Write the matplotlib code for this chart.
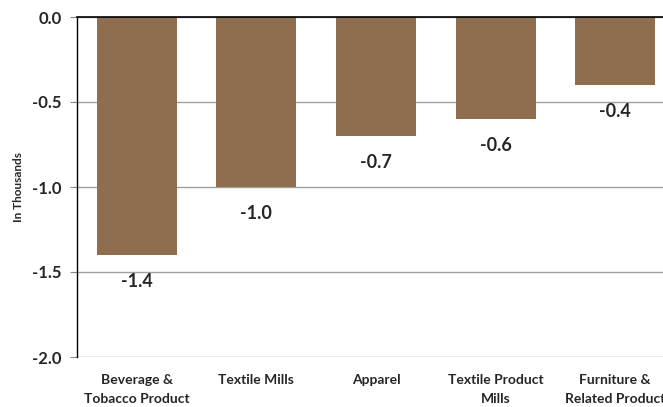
import matplotlib
matplotlib.use("Agg")
import matplotlib.pyplot as plt

categories = ["Beverage &\nTobacco Product", "Textile Mills", "Apparel",
              "Textile Product\nMills", "Furniture &\nRelated Product"]
values = [-1.4, -1.0, -0.7, -0.6, -0.4]
yticks = [0.0, -0.5, -1.0, -1.5, -2.0]

BAR_COLOR = "#8E6E4F"
plt.rcParams["font.family"] = ["Lato", "DejaVu Sans"]

fig = plt.figure(figsize=(6.63, 4.07), dpi=100)
ax = fig.add_axes([77 / 663, 1 - 357 / 407, 598 / 663, 340 / 407])

x = range(len(categories))
ax.bar(x, values, width=0.67, color=BAR_COLOR, zorder=2)
for i, v in zip(x, values):
    ax.annotate(f"{v:.1f}", (i, v), xytext=(0, -13), textcoords="offset points",
                ha="center", va="top", fontsize=13, fontweight="bold", color="#262626")

ax.set_xlim(-0.5, len(categories) - 0.5)
ax.set_ylim(-2.0, 0.0)
ax.set_yticks(yticks)
ax.set_yticklabels([f"{t:.1f}" for t in yticks], fontsize=12, fontweight="bold", color="#262626")
ax.set_xticks(list(x))
ax.set_xticklabels(categories, fontsize=10, fontweight="bold", color="#262626",
                   linespacing=1.7)
ax.tick_params(axis="x", length=0, pad=12)
ax.tick_params(axis="y", length=5, width=0.8, color="#888888", pad=6)
ax.yaxis.grid(True, color="#A0A0A0", linewidth=1, zorder=0)
ax.set_ylabel("In Thousands", fontsize=8.5, fontweight="bold", color="#262626", labelpad=6)

for side in ("right", "bottom"):
    ax.spines[side].set_visible(False)
ax.spines["top"].set_color("black")
ax.spines["top"].set_linewidth(1.2)
ax.spines["left"].set_color("black")
ax.spines["left"].set_linewidth(1)

fig.savefig("out.png", dpi=100)
